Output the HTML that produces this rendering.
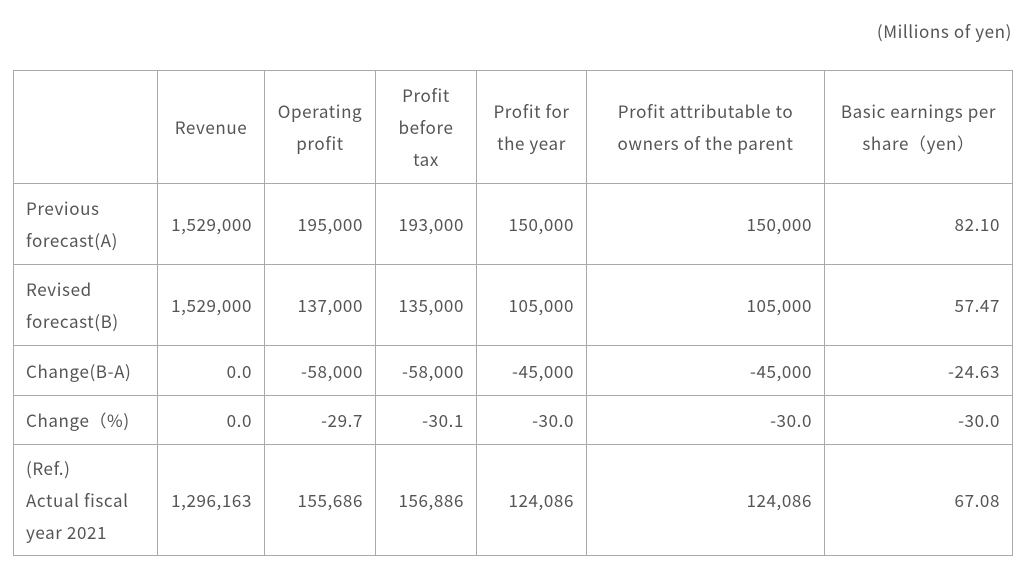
<!DOCTYPE html>
<html><head><meta charset="utf-8"><style>
body{margin:0;width:1030px;height:570px;background:#fff;font-family:"Noto Sans CJK JP","Liberation Sans",sans-serif;color:#555;font-size:17px;letter-spacing:0.6px;position:relative;overflow:hidden}
.unit{position:absolute;right:18px;top:17px;line-height:28px}
table{position:absolute;left:13px;top:70px;border-collapse:collapse;table-layout:fixed}
td{border:1px solid #aaa;padding:0 12px;line-height:32px;text-align:right;vertical-align:middle}
tr.h td{text-align:center;padding:0 4px}
td.l{text-align:left}
</style></head><body>
<div class="unit">(Millions of yen)</div>
<table>
<colgroup><col style="width:144px"><col style="width:107px"><col style="width:111px"><col style="width:101px"><col style="width:110px"><col style="width:238px"><col style="width:188px"></colgroup>
<tr class="h" style="height:113px"><td></td><td>Revenue</td><td>Operating<br>profit</td><td>Profit<br>before<br>tax</td><td>Profit for<br>the year</td><td>Profit attributable to<br>owners of the parent</td><td>Basic earnings per<br>share（yen）</td></tr>
<tr style="height:81px"><td class="l">Previous<br>forecast(A)</td><td>1,529,000</td><td>195,000</td><td>193,000</td><td>150,000</td><td>150,000</td><td>82.10</td></tr>
<tr style="height:81px"><td class="l">Revised<br>forecast(B)</td><td>1,529,000</td><td>137,000</td><td>135,000</td><td>105,000</td><td>105,000</td><td>57.47</td></tr>
<tr style="height:50px"><td class="l">Change(B-A)</td><td>0.0</td><td>-58,000</td><td>-58,000</td><td>-45,000</td><td>-45,000</td><td>-24.63</td></tr>
<tr style="height:49px"><td class="l">Change（%)</td><td>0.0</td><td>-29.7</td><td>-30.1</td><td>-30.0</td><td>-30.0</td><td>-30.0</td></tr>
<tr style="height:111px"><td class="l">(Ref.)<br>Actual fiscal<br>year 2021</td><td>1,296,163</td><td>155,686</td><td>156,886</td><td>124,086</td><td>124,086</td><td>67.08</td></tr>
</table>
</body></html>
